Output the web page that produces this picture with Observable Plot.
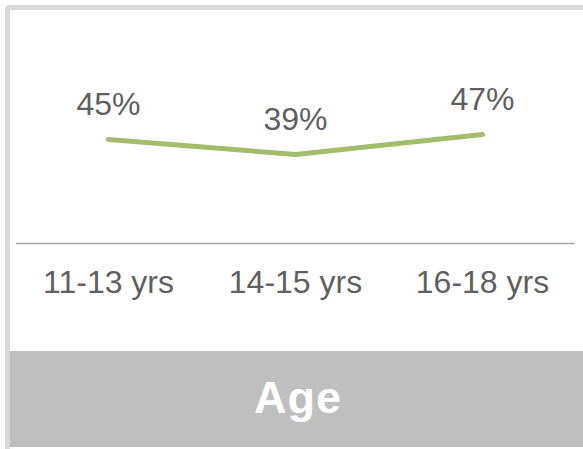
<!DOCTYPE html>
<html>
<head>
<meta charset="utf-8">
<script src="https://cdn.jsdelivr.net/npm/d3@7"></script>
<script src="https://cdn.jsdelivr.net/npm/@observablehq/plot@0.6"></script>
<style>
  html, body { margin: 0; padding: 0; background: #ffffff; }
  #wrap { position: relative; width: 583px; height: 449px; overflow: hidden; background: #ffffff; }
  #border { position: absolute; left: 5px; top: 5px; width: 600px; height: 439px;
            border: 5px solid #d9d9d9; border-right: none; border-radius: 5px 0 0 5px; }
  #band { position: absolute; left: 10px; top: 351px; width: 580px; height: 96px; background: #bfbfbf;
          color: #ffffff; font: bold 45px "Liberation Sans", Arial, sans-serif; text-align: center;
          line-height: 94px; padding-right: 4px; box-sizing: border-box; letter-spacing: 1px; }
  #chart { position: absolute; left: 0; top: 0; }
</style>
</head>
<body>
<div id="wrap">
  <div id="border"></div>
  <div id="band">Age</div>
  <div id="chart"></div>
</div>
<script>
const categories = ["11-13 yrs", "14-15 yrs", "16-18 yrs"];
const values = [45, 39, 47];
const bandTitle = "Age";

const data = categories.map((c, i) => ({age: c, pct: values[i]}));

const chart = Plot.plot({
  width: 583,
  height: 351,
  marginTop: 0,
  marginBottom: 108,
  marginLeft: 16,
  marginRight: 10,
  style: {fontFamily: "'Liberation Sans', Arial, sans-serif", fontSize: "32px", color: "#595959", background: "transparent", overflow: "visible"},
  x: {type: "point", domain: categories, range: [108, 482], padding: 0},
  y: {domain: [0, 60], range: [251.5, 101.5], axis: null},
  marks: [
    Plot.frame({anchor: "bottom", stroke: "#a6a6a6", strokeWidth: 1.5}),
    Plot.line(data, {x: "age", y: "pct", stroke: "#a3bd6c", strokeWidth: 5, strokeLinecap: "round", strokeLinejoin: "round"}),
    Plot.text(data, {x: "age", y: "pct", text: d => d.pct + "%", dy: -25, lineAnchor: "bottom", fill: "#5f5f5f", fontSize: 32}),
    Plot.axisX({tickSize: 0, tickPadding: 27, fontSize: 32, fill: "#5f5f5f", label: null})
  ]
});
document.getElementById("chart").appendChild(chart);
document.getElementById("band").textContent = bandTitle;
</script>
</body>
</html>
